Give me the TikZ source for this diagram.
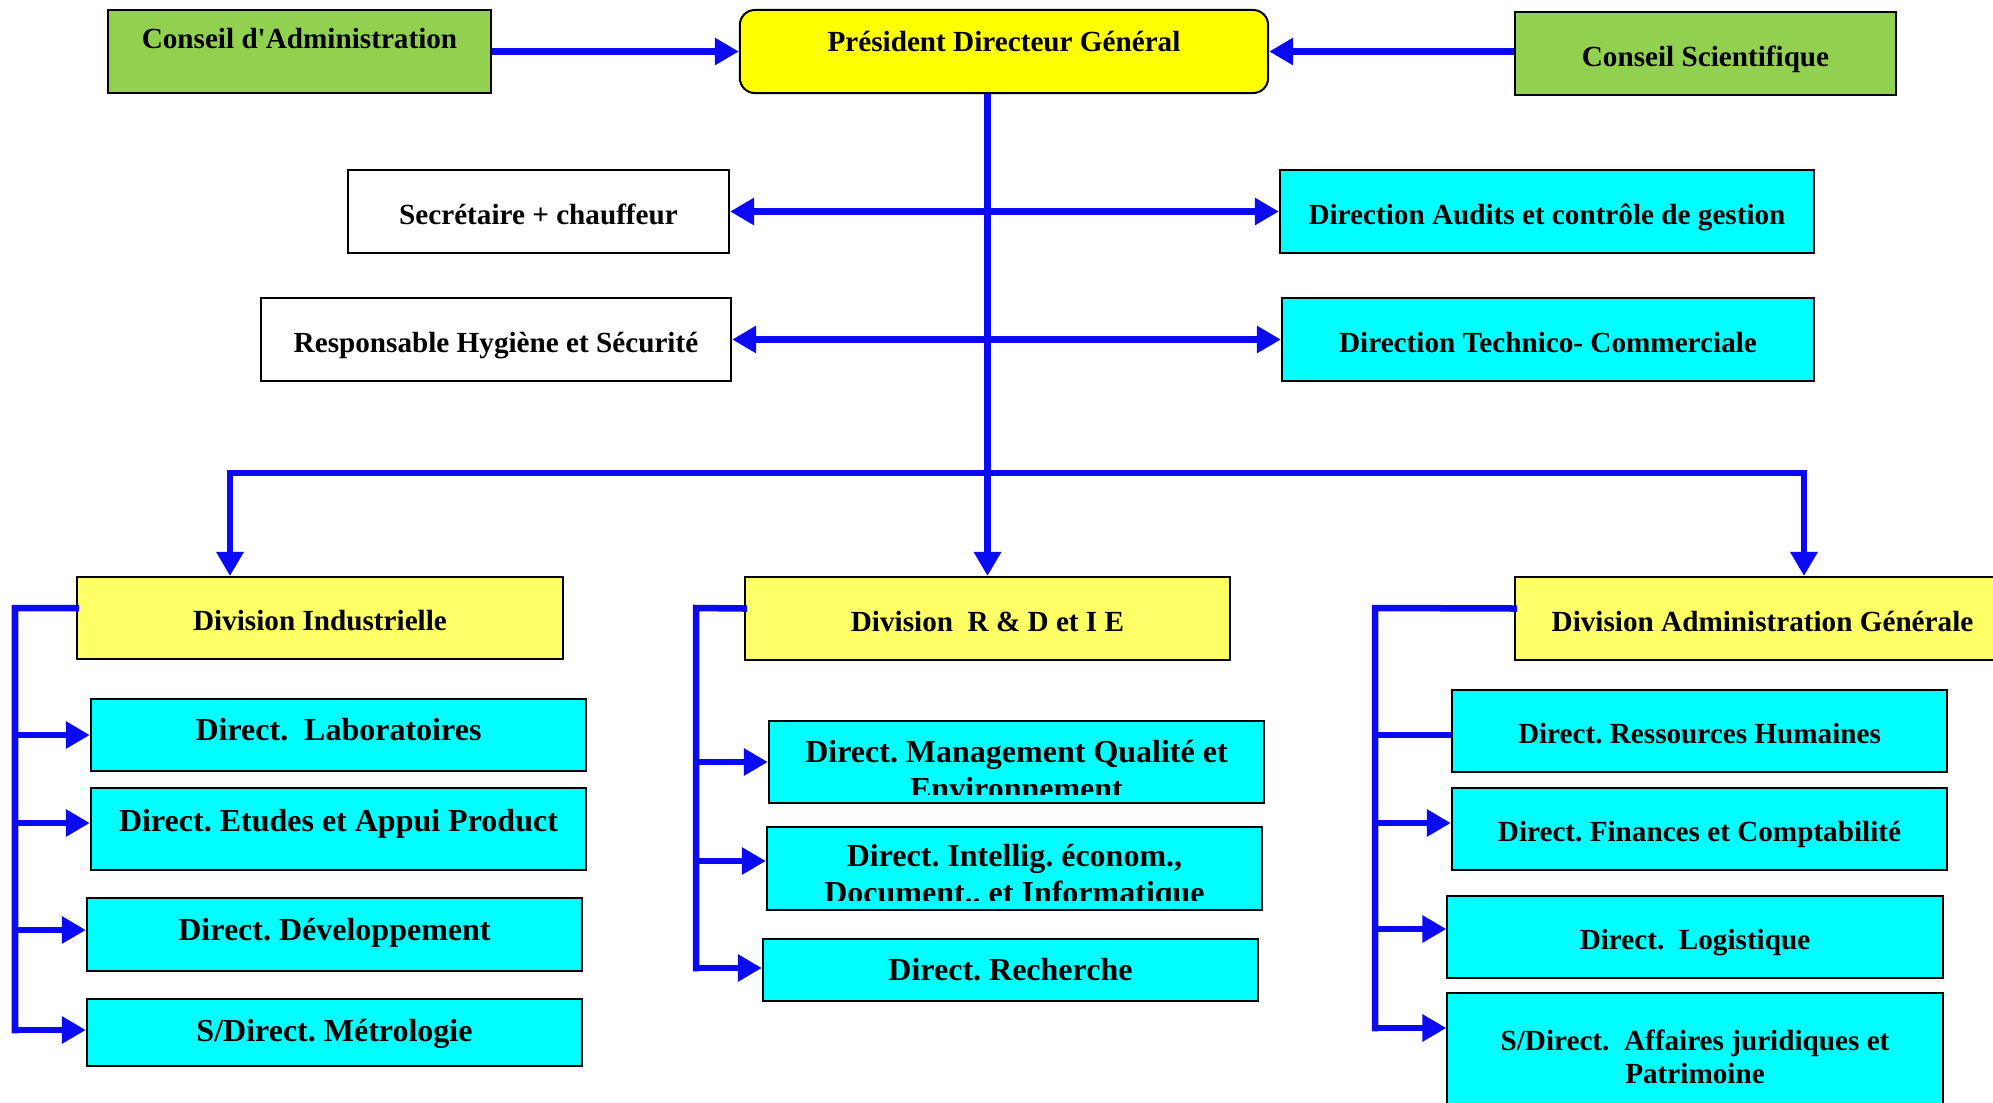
\documentclass[tikz,border=0pt]{standalone}
\usepackage{fontspec}
\setmainfont{Liberation Serif}
\usepackage{tikz}
\usepackage{xcolor}
\usetikzlibrary{arrows.meta,positioning}
\definecolor{vertconseil}{HTML}{92D050}
\definecolor{jaunepdg}{HTML}{FFFF00}
\definecolor{jaunediv}{HTML}{FFFF66}
\definecolor{cyanbox}{HTML}{00FFFF}
\definecolor{bleutrait}{HTML}{0A0AF5}
\newcommand{\txtpetit}{\fontsize{8.3pt}{9.4pt}\selectfont\bfseries\frenchspacing}
\newcommand{\txtgrand}{\fontsize{9.1pt}{10.5pt}\selectfont\bfseries\frenchspacing}

\begin{document}
\begin{tikzpicture}[x=0.01cm,y=-0.01cm,
		boite/.style={draw=black,line width=0.02cm,inner sep=0pt,align=center,font=\txtpetit,
			text height=0.25cm,text depth=0cm},
		tx/.style 2 args={text height=#1,text depth=#2},
		conseil/.style={boite,fill=vertconseil},
		pdgbox/.style={boite,fill=jaunepdg,rounded corners=0.15cm},
		division/.style={boite,fill=jaunediv},
		direction/.style={boite,fill=cyanbox},
		blanc/.style={boite,fill=white},
		liaison/.style={draw=bleutrait,line width=0.065cm},
		fleche/.style={liaison,-{Triangle[length=0.24cm,width=0.26cm]}},
		fleches/.style={liaison,{Triangle[length=0.24cm,width=0.26cm]}-{Triangle[length=0.24cm,width=0.26cm]}}]
		\useasboundingbox (0,0) rectangle (1993,1102);
		\clip (0,0) rectangle (1993,1102);

		\node[conseil,tx={0.2cm}{0.26cm},minimum width=3.83cm,minimum height=0.83cm] (ca) at (299.5,51.5)
			{Conseil d\textquotesingle Administration};
		\node[pdgbox,tx={0.2cm}{0.21cm},minimum width=5.28cm,minimum height=0.83cm] (pdg) at (1004,51.5)
			{Président Directeur Général};
		\node[conseil,minimum width=3.81cm,minimum height=0.83cm] (cs) at (1705.5,53.5)
			{Conseil Scientifique};
		\node[blanc,minimum width=3.81cm,minimum height=0.83cm] (sec) at (538.5,211.5)
			{Secrétaire + chauffeur};
		\node[direction,minimum width=5.34cm,minimum height=0.83cm] (aud) at (1547,211.5)
			{Direction Audits et contrôle de gestion};
		\node[blanc,minimum width=4.70cm,minimum height=0.83cm] (resp) at (496,339.5)
			{Responsable Hygiène et Sécurité};
		\node[direction,minimum width=5.32cm,minimum height=0.83cm] (tech) at (1548,339.5)
			{Direction Technico- Commerciale};

		\node[division,minimum width=4.86cm,minimum height=0.82cm] (dind) at (320,618)
			{Division Industrielle};
		\node[division,minimum width=4.85cm,minimum height=0.83cm] (drd) at (987.5,618.5)
			{Division\ \ R \& D et I E};
		\node[division,minimum width=4.95cm,minimum height=0.83cm] (dadm) at (1762.5,618.5)
			{Division Administration Générale};

		\node[direction,font=\txtgrand,tx={0.2cm}{0.09cm},minimum width=4.95cm,minimum height=0.72cm] (lab) at (338.5,735)
			{Direct.\ \ Laboratoires};
		\node[direction,font=\txtgrand,tx={0.2cm}{0.15cm},minimum width=4.95cm,minimum height=0.82cm] (etu) at (338.5,829)
			{Direct. Etudes et Appui Product};
		\node[direction,font=\txtgrand,tx={0.2cm}{0.09cm},minimum width=4.95cm,minimum height=0.73cm] (dev) at (334.5,934.5)
			{Direct. Développement};
		\node[direction,font=\txtgrand,tx={0.22cm}{0.04cm},minimum width=4.95cm,minimum height=0.67cm] (met) at (334.5,1032.5)
			{S/Direct. Métrologie};

		\node[direction,minimum width=4.95cm,minimum height=0.82cm] (mqe) at (1016.5,762) {};
		\begin{scope}
			\clip (mqe.north west) rectangle ([yshift=0.1cm]mqe.south east);
			\node[font=\txtgrand,align=center] (mqetxt) at ([yshift=-0.08cm]mqe)
				{Direct. Management Qualité et\\Environnement};
		\end{scope}
		\node[direction,minimum width=4.95cm,minimum height=0.83cm] (iei) at (1014.5,868.5) {};
		\begin{scope}
			\clip (iei.north west) rectangle ([yshift=0.11cm]iei.south east);
			\node[font=\txtgrand,align=center] (ieitxt) at ([yshift=-0.085cm]iei)
				{Direct. Intellig. économ.,\\Document.. et Informatique};
		\end{scope}
		\node[direction,font=\txtgrand,tx={0.21cm}{0cm},minimum width=4.95cm,minimum height=0.62cm] (rec) at (1010.5,970)
			{Direct. Recherche};

		\node[direction,minimum width=4.95cm,minimum height=0.82cm] (rh) at (1699.5,731)
			{Direct. Ressources Humaines};
		\node[direction,minimum width=4.95cm,minimum height=0.82cm] (fin) at (1699.5,829)
			{Direct. Finances et Comptabilité};
		\node[direction,minimum width=4.95cm,minimum height=0.82cm] (log) at (1695,937)
			{Direct.\ \ Logistique};
		\node[direction,tx={}{},minimum width=4.95cm,minimum height=1.27cm] (aff) at (1695,1056.5)
			{S/Direct.\ \ Affaires juridiques et\\Patrimoine};

		\draw[fleche] (ca.east) -- (pdg.west);
		\draw[fleche] (cs.west |- pdg.east) -- (pdg.east);
		\draw[fleche] (drd.north |- pdg.south) -- (drd.north);
		\draw[fleches] (sec.east) -- (aud.west);
		\draw[fleches] (resp.east) -- (tech.west);

		\coordinate (barg) at (230,473);
		\coordinate (bard) at (1804,473);
		\draw[fleches] (barg |- dind.north) -- (barg) -- (bard) -- (bard |- dadm.north);

		\coordinate (rail1) at (15,608);
		\coordinate (etu-in) at ([yshift=0.06cm]etu.west);
		\coordinate (dev-in) at ([yshift=0.045cm]dev.west);
		\coordinate (met-in) at ([yshift=0.025cm]met.west);
		\draw[liaison,line cap=rect] ([yshift=0.1cm]dind.west) -- (rail1) -- (rail1 |- met-in);
		\draw[fleche] (rail1 |- lab) -- (lab.west);
		\draw[fleche] (rail1 |- etu-in) -- (etu-in);
		\draw[fleche] (rail1 |- dev-in) -- (dev-in);
		\draw[fleche] (rail1 |- met-in) -- (met-in);

		\coordinate (rail2) at (696,608);
		\coordinate (iei-in) at ([yshift=0.075cm]iei.west);
		\coordinate (rec-in) at ([yshift=0.02cm]rec.west);
		\draw[liaison,line cap=rect] ([yshift=0.1cm]drd.west) -- (rail2) -- (rail2 |- rec-in);
		\draw[fleche] (rail2 |- mqe) -- (mqe.west);
		\draw[fleche] (rail2 |- iei-in) -- (iei-in);
		\draw[fleche] (rail2 |- rec-in) -- (rec-in);

		\coordinate (rail3) at (1375,608);
		\coordinate (rh-in) at ([yshift=-0.04cm]rh.west);
		\coordinate (fin-in) at ([yshift=0.06cm]fin.west);
		\coordinate (log-in) at ([yshift=0.08cm]log.west);
		\coordinate (aff-in) at ([yshift=-0.36cm]aff.north west);
		\draw[liaison,line cap=rect] ([yshift=0.1cm]dadm.west) -- (rail3) -- (rail3 |- aff-in);
		\draw[liaison] (rail3 |- rh-in) -- (rh-in);
		\draw[fleche] (rail3 |- fin-in) -- (fin-in);
		\draw[fleche] (rail3 |- log-in) -- (log-in);
		\draw[fleche] (rail3 |- aff-in) -- (aff-in);
	\end{tikzpicture}
\end{document}
